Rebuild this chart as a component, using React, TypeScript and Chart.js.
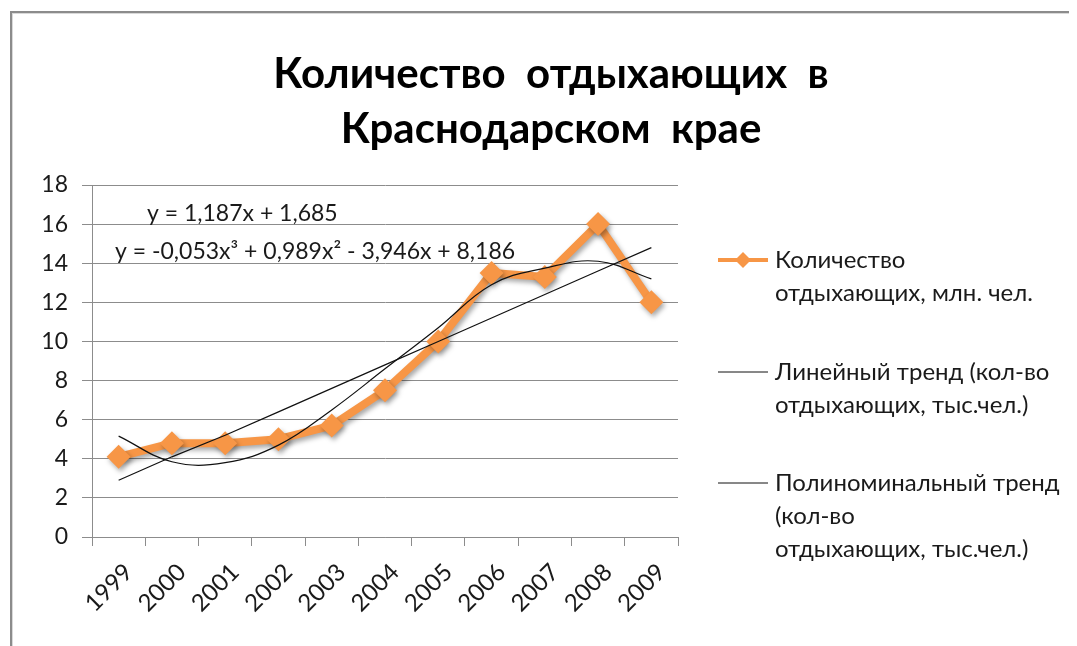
import React, { useEffect, useRef } from "react";
import { Chart, registerables } from "chart.js";

Chart.register(...registerables);

const years = ["1999", "2000", "2001", "2002", "2003", "2004", "2005", "2006", "2007", "2008", "2009"];
const visitors = [4.1, 4.8, 4.8, 5.0, 5.7, 7.5, 10.0, 13.5, 13.3, 16.0, 12.0];
const linearTrend = [2.9, 4.1, 5.2, 6.4, 7.6, 8.8, 10.0, 11.2, 12.4, 13.6, 14.8];
const polyTrend = [5.16, 3.85, 3.8, 4.7, 6.5, 8.6, 10.7, 12.9, 13.75, 14.1, 13.2];
const yTicks = [0, 2, 4, 6, 8, 10, 12, 14, 16, 18];

const titleLines = ["Количество  отдыхающих  в", "Краснодарском  крае"];
const equationLinear = "y = 1,187x + 1,685";
const equationPoly = "y = -0,053x³ + 0,989x² - 3,946x + 8,186";
const legendItems = [
  ["Количество", "отдыхающих, млн. чел."],
  ["Линейный тренд (кол-во", "отдыхающих, тыс.чел.)"],
  ["Полиноминальный тренд", "(кол-во", "отдыхающих, тыс.чел.)"],
];

const ORANGE = "#F79646";
const FONT = "Lato, 'Open Sans', sans-serif";

const decorPlugin = {
  id: "decor",
  beforeDraw(chart: any) {
    const ctx = chart.ctx;
    ctx.save();
    ctx.fillStyle = "#ffffff";
    ctx.fillRect(0, 0, chart.width, chart.height);
    ctx.fillStyle = "#8c8c8c";
    ctx.fillRect(2, 3, chart.width, 2);
    ctx.fillRect(2, 3, 2, chart.height);
    ctx.fillStyle = "#d9d9d9";
    ctx.fillRect(4, 5, chart.width, 1);
    ctx.fillRect(4, 5, 1, chart.height);
    ctx.restore();
  },
  beforeDatasetDraw(chart: any, args: any) {
    if (args.index === 0) {
      const ctx = chart.ctx;
      ctx.save();
      ctx.shadowColor = "rgba(0,0,0,0.35)";
      ctx.shadowBlur = 5;
      ctx.shadowOffsetX = 2;
      ctx.shadowOffsetY = 3;
    }
  },
  afterDatasetDraw(chart: any, args: any) {
    if (args.index === 0) chart.ctx.restore();
  },
  afterDraw(chart: any) {
    const ctx = chart.ctx;
    ctx.save();
    // title
    ctx.fillStyle = "#000";
    ctx.textAlign = "center";
    ctx.textBaseline = "alphabetic";
    ctx.font = `bold 42px ${FONT}`;
    ctx.fillText(titleLines[0], 543, 80);
    ctx.fillText(titleLines[1], 543, 135);
    // equations
    ctx.font = `23px ${FONT}`;
    ctx.textAlign = "left";
    ctx.textBaseline = "middle";
    ctx.fillStyle = "#1a1a1a";
    ctx.fillText(equationLinear, 139, 206);
    ctx.fillText(equationPoly, 107, 244);
    // legend
    const ds = chart.data.datasets;
    const rows = [252, 364, 475];
    for (let i = 0; i < legendItems.length; i++) {
      const y = rows[i];
      ctx.strokeStyle = ds[i].borderColor;
      ctx.lineWidth = i === 0 ? 4 : 1;
      ctx.beginPath();
      ctx.moveTo(710, y);
      ctx.lineTo(760, y);
      ctx.stroke();
      if (i === 0) {
        ctx.fillStyle = ORANGE;
        ctx.beginPath();
        ctx.moveTo(735, y - 8);
        ctx.lineTo(743, y);
        ctx.lineTo(735, y + 8);
        ctx.lineTo(727, y);
        ctx.closePath();
        ctx.fill();
      }
      ctx.fillStyle = "#1a1a1a";
      ctx.font = `24px ${FONT}`;
      legendItems[i].forEach((t, j) => ctx.fillText(t, 767, y + j * 33));
    }
    ctx.restore();
  },
};

export default function App() {
  const ref = useRef<HTMLCanvasElement>(null);
  useEffect(() => {
    if (!ref.current) return;
    const chart = new Chart(ref.current, {
      type: "line",
      data: {
        labels: years,
        datasets: [
          {
            label: legendItems[0].join(" "),
            data: visitors,
            borderColor: ORANGE,
            backgroundColor: ORANGE,
            borderWidth: 8,
            pointStyle: "rectRot",
            pointRadius: 12,
            pointHoverRadius: 12,
            pointBackgroundColor: ORANGE,
            pointBorderWidth: 0,
            tension: 0,
            order: 1,
          },
          {
            label: legendItems[1].join(" "),
            data: linearTrend,
            borderColor: "#111111",
            borderWidth: 1.2,
            pointRadius: 0,
            tension: 0,
            order: 0,
          },
          {
            label: legendItems[2].join(" "),
            data: polyTrend,
            borderColor: "#111111",
            borderWidth: 1.2,
            pointRadius: 0,
            tension: 0.4,
            order: 0,
          },
        ],
      },
      options: {
        animation: false,
        responsive: false,
        maintainAspectRatio: false,
        layout: { padding: { top: 177, right: 399, left: 0, bottom: 9 } },
        plugins: {
          legend: { display: false },
          title: { display: false },
          tooltip: { enabled: false },
        },
        scales: {
          x: {
            offset: true,
            afterFit: (s: any) => {
              s.height = 100;
            },
            grid: {
              offset: true,
              drawOnChartArea: false,
              drawTicks: true,
              tickLength: 9,
              color: "#8c8c8c",
            },
            border: { color: "#8c8c8c", width: 1 },
            ticks: {
              minRotation: 45,
              maxRotation: 45,
              autoSkip: false,
              padding: 12,
              labelOffset: 10,
              color: "#1a1a1a",
              font: { family: FONT, size: 24 },
            },
          },
          y: {
            min: 0,
            max: 18,
            afterFit: (s: any) => {
              s.width = 84;
            },
            afterBuildTicks: (s: any) => {
              s.ticks = yTicks.map((v) => ({ value: v }));
            },
            grid: {
              color: "#8c8c8c",
              drawTicks: true,
              tickLength: 10,
            },
            border: { color: "#8c8c8c", width: 1 },
            ticks: {
              padding: 14,
              color: "#1a1a1a",
              font: { family: FONT, size: 23 },
            },
          },
        },
      },
      plugins: [decorPlugin],
    });
    return () => chart.destroy();
  }, []);
  return <canvas ref={ref} width={1069} height={638} style={{ display: "block" }} />;
}
